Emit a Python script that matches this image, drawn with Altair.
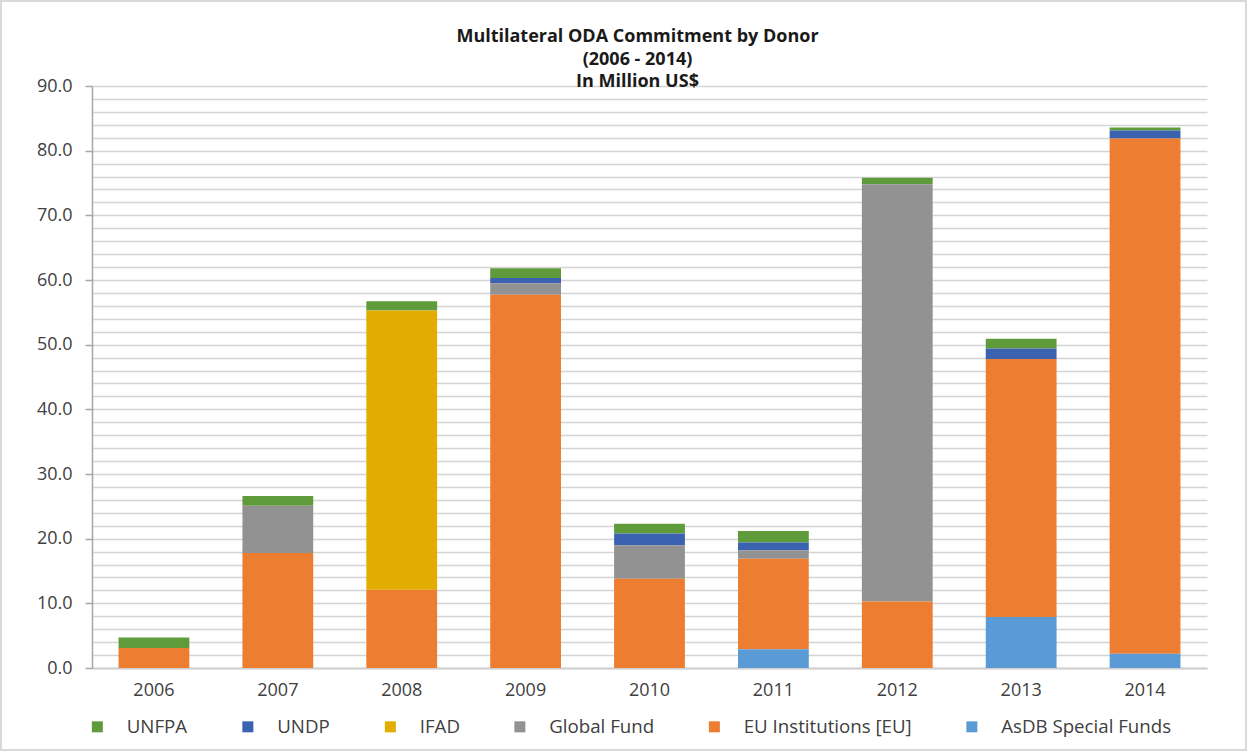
import altair as alt
import pandas as pd

# Commitments in million US$, per year and donor
years = ["2006", "2007", "2008", "2009", "2010", "2011", "2012", "2013", "2014"]
unfpa = [1.6, 1.5, 1.4, 1.5, 1.5, 1.8, 1.0, 1.5, 0.5]
undp = [0.0, 0.0, 0.0, 0.8, 1.8, 1.2, 0.0, 1.6, 1.2]
ifad = [0.0, 0.0, 43.2, 0.0, 0.0, 0.0, 0.0, 0.0, 0.0]
global_fund = [0.0, 7.3, 0.0, 1.8, 5.2, 1.3, 64.5, 0.0, 0.0]
eu = [3.1, 17.8, 12.1, 57.7, 13.8, 14.0, 10.3, 39.9, 79.7]
asdb = [0.0, 0.0, 0.0, 0.0, 0.0, 2.9, 0.0, 7.9, 2.2]

donors = ["UNFPA", "UNDP", "IFAD", "Global Fund", "EU Institutions [EU]", "AsDB Special Funds"]
series = [unfpa, undp, ifad, global_fund, eu, asdb]
colors = ["#5f9a3b", "#3a62b0", "#e2ac00", "#929292", "#ed7d31", "#5b9bd5"]

rows = []
for d_idx, (donor, vals) in enumerate(zip(donors, series)):
    for year, v in zip(years, vals):
        # stack position: AsDB at the bottom, UNFPA on top
        rows.append({"year": year, "donor": donor, "value": v,
                     "stack": len(donors) - 1 - d_idx})
df = pd.DataFrame(rows)

FONT = "Open Sans"
W, H = 1115, 582

bars = alt.Chart(df).mark_bar(strokeWidth=0).encode(
    x=alt.X("year:N", sort=years, title=None,
            scale=alt.Scale(paddingInner=0.4286, paddingOuter=0.2143),
            axis=alt.Axis(labelAngle=0, ticks=False, labelPadding=13,
                          domainColor="#d0d0d0", domainWidth=2,
                          labelFontSize=18, labelColor="#404040", labelFont=FONT)),
    y=alt.Y("value:Q", stack="zero", title=None,
            scale=alt.Scale(domain=[0, 90], nice=False),
            axis=alt.Axis(values=list(range(0, 91, 2)), format=".1f",
                          labelExpr="datum.value % 10 === 0 ? datum.label : ''",
                          tickOpacity=alt.condition("datum.value % 10 === 0",
                                                    alt.value(1), alt.value(0)),
                          tickSize=7, tickColor="#a6a6a6", tickWidth=1.5,
                          domainColor="#a6a6a6", domainWidth=1.5,
                          labelPadding=13, labelFontSize=18, labelColor="#404040",
                          labelFont=FONT, gridColor="#d4d4d4", gridWidth=1.5)),
    color=alt.Color("donor:N", scale=alt.Scale(domain=donors, range=colors),
                    legend=alt.Legend(orient="none", legendX=-4, legendY=631,
                                      direction="horizontal", columns=6,
                                      title=None, symbolType="square",
                                      symbolSize=121, symbolStrokeWidth=0,
                                      labelFontSize=18.7, labelFont=FONT,
                                      labelColor="#404040", labelOffset=20,
                                      columnPadding=50.5, labelLimit=300)),
    order=alt.Order("stack:Q", sort="ascending"),
)

# light frame around the whole chart area
frame = alt.Chart(pd.DataFrame({"k": [0]})).mark_rect(
    fill="transparent", stroke="#d9d9d9", strokeWidth=2
).encode(
    x=alt.value(-91), x2=alt.value(W + 39),
    y=alt.value(-85), y2=alt.value(H + 82),
)

chart = alt.layer(bars, frame).properties(
    width=W,
    height=H,
    title=alt.TitleParams(
        text=["Multilateral ODA Commitment by Donor", "(2006 - 2014)", "In Million US$"],
        font=FONT, fontSize=18, fontWeight="bold", color="#1a1a1a",
        lineHeight=22.5, anchor="middle", frame="group", dx=-12, dy=93, offset=2,
    ),
    autosize=alt.AutoSizeParams(type="none"),
    padding={"left": 92, "top": 86, "right": 40, "bottom": 83},
).configure(background="white").configure_view(stroke=None)

chart.save("out.html", embed_options={"renderer": "svg", "actions": False})
